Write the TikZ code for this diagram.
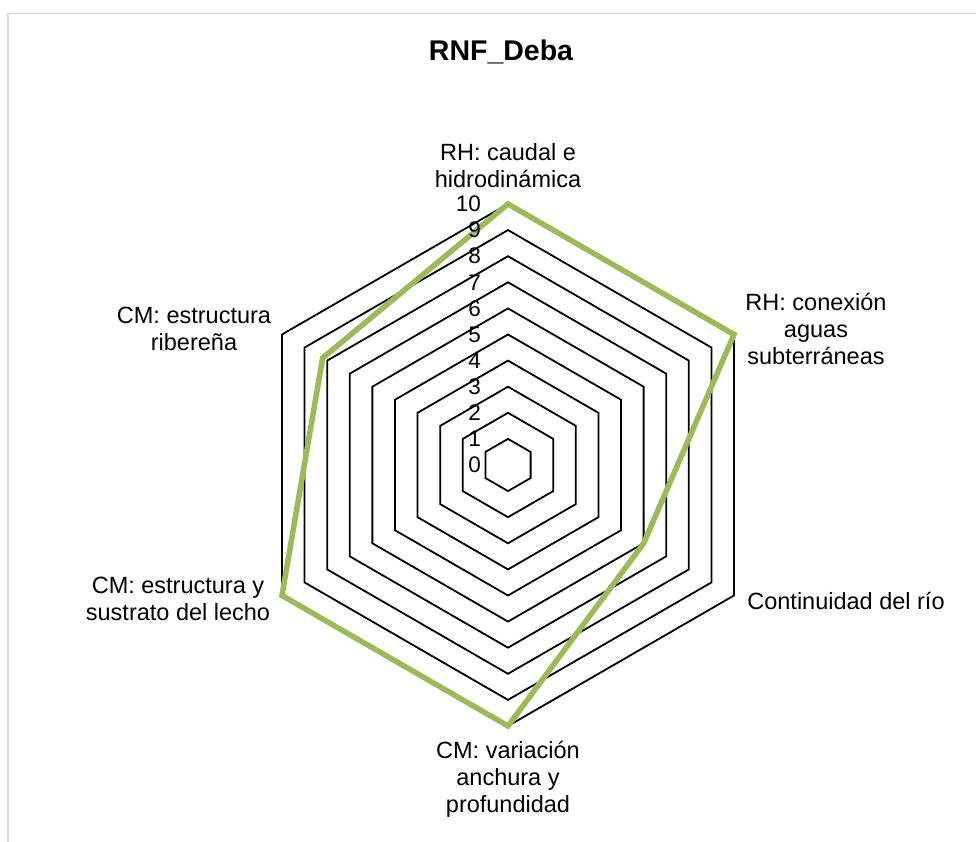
\documentclass[tikz,border=0pt]{standalone}
\usepackage{fontspec}
\setmainfont{Liberation Sans}
\definecolor{radargreen}{HTML}{9BBB59}
\definecolor{framegray}{HTML}{D9D9D9}
\begin{document}
\begin{tikzpicture}[x=1pt,y=1pt,
  catlabel/.style={font=\fontsize{23.5}{27}\selectfont, align=center, inner sep=0pt},
  ticklabel/.style={font=\fontsize{22.5}{26}\selectfont, anchor=east, inner sep=0pt},
  gridline/.style={draw=black, line width=1.8pt, line join=miter},
  seriesline/.style={draw=radargreen, line width=5.5pt, line join=miter},
  framestyle/.style={draw=framegray, line width=1.5pt}]
\useasboundingbox (0,0) rectangle (976,842);
\draw[framestyle] (8,0) -- (8,828.5) -- (976,828.5);
\node[font=\fontsize{28.5}{32}\selectfont\bfseries, inner sep=0pt] (title) at (501,790) {RNF\_Deba};
\begin{scope}[shift={(508,377)}]
  \foreach \r in {1,...,10}{
    \draw[gridline] (90:{\r*26.1}) -- (30:{\r*26.1}) -- (-30:{\r*26.1}) -- (-90:{\r*26.1}) -- (-150:{\r*26.1}) -- (150:{\r*26.1}) -- cycle;
  }
  \draw[seriesline] (90:{10*26.1}) -- (30:{10*26.1}) -- (-30:{6*26.1}) -- (-90:{10*26.1}) -- (-150:{10*26.1}) -- (150:{8.2*26.1}) -- cycle;
  \foreach \r in {0,...,10}{
    \node[ticklabel] (tick\r) at (-27,{\r*26.1}) {\r};
  }
\end{scope}
\node[catlabel] (cat1) at (508,676.5) {RH: caudal e\\hidrodinámica};
\node[catlabel] (cat2) at (816,513) {RH: conexión\\aguas\\subterráneas};
\node[catlabel] (cat3) at (846,241) {Continuidad del río};
\node[catlabel] (cat4) at (508,63) {CM: variación\\anchura y\\profundidad};
\node[catlabel] (cat5) at (178,243) {CM: estructura y\\sustrato del lecho};
\node[catlabel] (cat6) at (194,513) {CM: estructura\\ribereña};
\end{tikzpicture}
\end{document}
